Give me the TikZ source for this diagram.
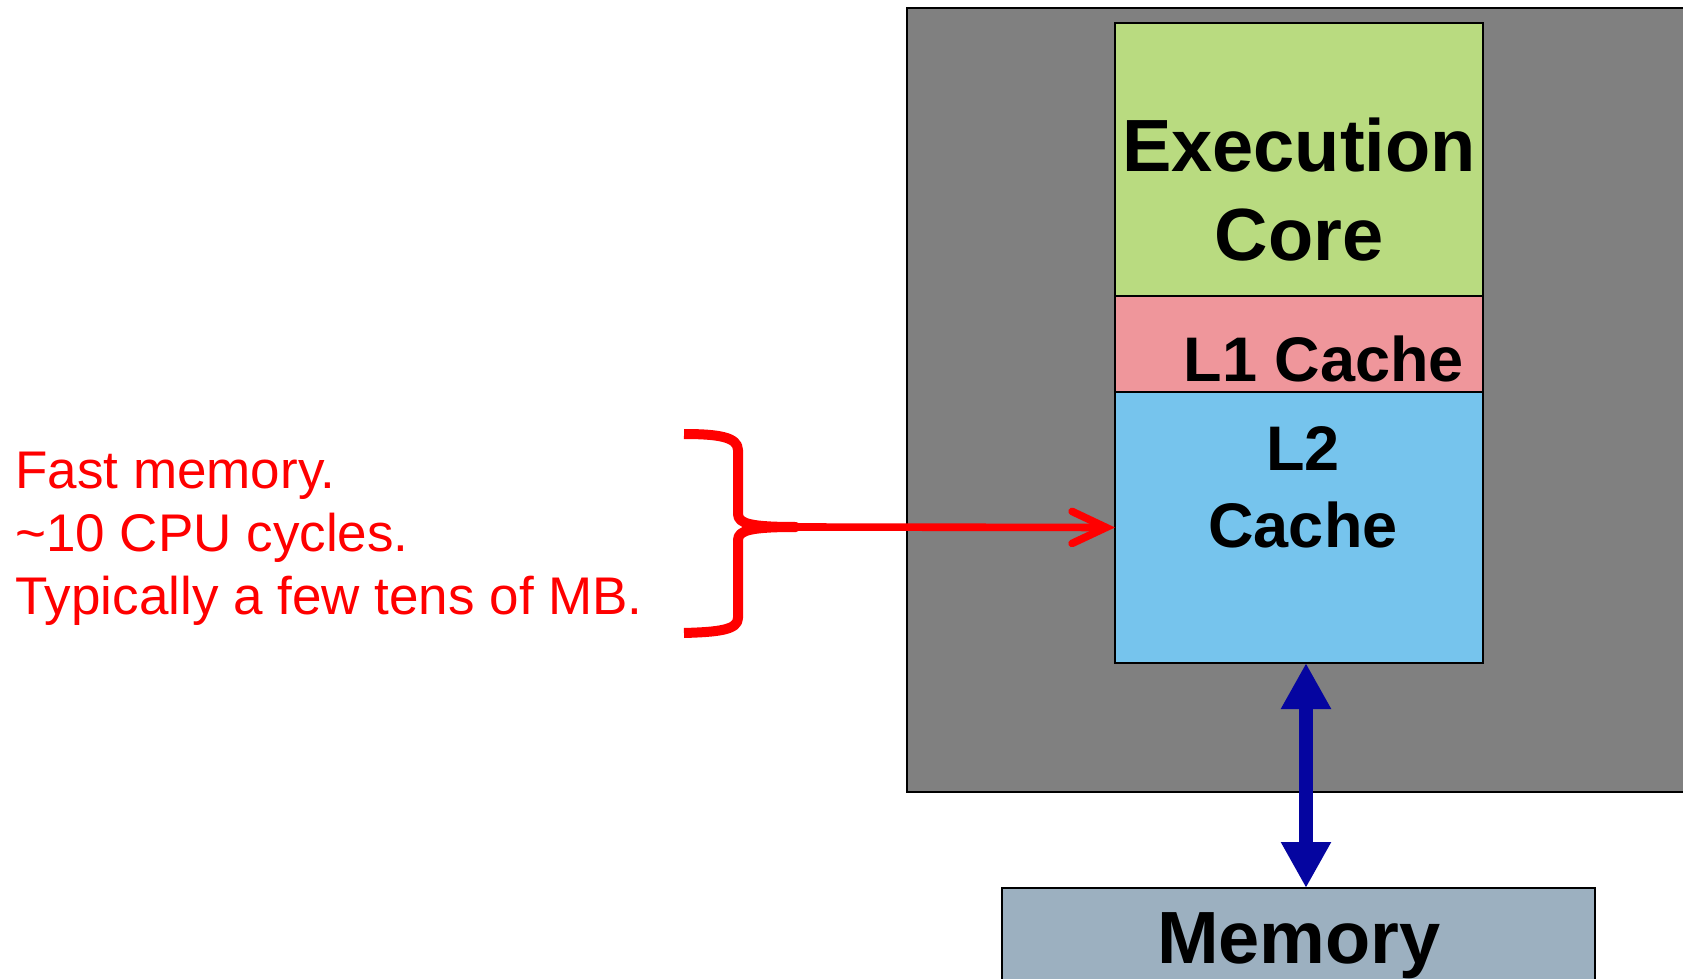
\documentclass[tikz,border=0pt]{standalone}
\usepackage{fontspec}
\setmainfont{Liberation Sans}
\usetikzlibrary{arrows.meta, positioning}

\definecolor{chipgray}{RGB}{128,128,128}
\definecolor{coregreen}{RGB}{185,219,128}
\definecolor{lonepink}{RGB}{239,150,155}
\definecolor{ltwoblue}{RGB}{118,196,237}
\definecolor{memgray}{RGB}{156,176,192}
\definecolor{busblue}{RGB}{5,5,160}

\begin{document}
\begin{tikzpicture}[x=0.5pt, y=-0.5pt,
    unit/.style={draw=black, line width=1pt, inner sep=0pt, outer sep=0pt},
    bigtext/.style={font=\bfseries\fontsize{37}{44}\selectfont, align=center, inner sep=0pt},
    smalltext/.style={font=\bfseries\fontsize{31.5}{38.5}\selectfont, align=center, inner sep=0pt}]
  \useasboundingbox (0, 0) rectangle (1683, 979);

  % chip with core and caches
  \node[unit, fill=chipgray, anchor=north west, minimum width=396.5pt, minimum height=392pt] (chip) at (907, 8) {};
  \node[unit, fill=coregreen, anchor=north west, minimum width=184pt, minimum height=136.5pt] (core) at (1115, 23) {};
  \node[unit, fill=lonepink, below=0pt of core, minimum width=184pt, minimum height=48pt] (l1) {};
  \node[unit, fill=ltwoblue, below=0pt of l1, minimum width=184pt, minimum height=135.5pt] (l2) {};
  \node[unit, fill=memgray, anchor=north west, minimum width=296.5pt, minimum height=50pt] (memory) at (1002, 888) {};

  % base is the last line of each text
  \node[bigtext, anchor=base] (coretext) at (1299, 260) {Execution\\Core};
  \node[smalltext, anchor=base] (l1text) at (1324, 381) {L1 Cache};
  \node[smalltext, anchor=base] (l2text) at (1303, 547) {L2\\Cache};
  \node[bigtext, anchor=base] (memtext) at (1299, 963) {Memory};

  % bus to memory
  \draw[busblue, line width=7pt, {Triangle[length=23pt, width=23.5pt]}-{Triangle[length=23pt, width=23.5pt]}]
    ([xshift=3.5pt]l2.south) -- ([xshift=3.5pt]l2.south |- memory.north);

  % note and brace
  \node[red, anchor=base west, align=left, inner sep=0pt, font=\fontsize{26.5}{31.5}\selectfont] (note) at (15, 614)
    {Fast memory.\\\textasciitilde10 CPU cycles.\\Typically a few tens of MB.};
  \coordinate (bracetip) at (796, 527);
  \draw[red, line width=5pt, line join=round]
    (684, 434) .. controls (718, 434) and (738, 437) .. (738, 450) -- (738, 514)
    .. controls (738, 524) and (752, 527) .. (bracetip)
    .. controls (752, 527) and (738, 530) .. (738, 540) -- (738, 618)
    .. controls (738, 630) and (718, 632) .. (684, 633);
  \draw[red, line width=3.8pt, -{Straight Barb[length=17pt, width=16pt, line cap=round]}] (bracetip) -- (l2.west);
\end{tikzpicture}
\end{document}
